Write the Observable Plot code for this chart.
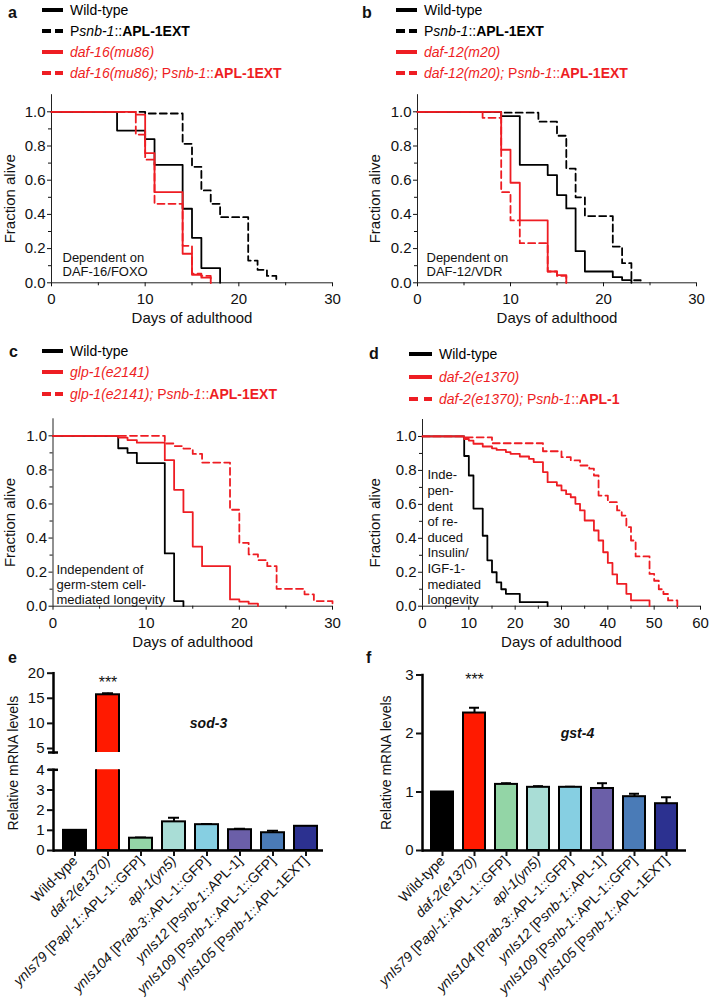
<!DOCTYPE html>
<html><head><meta charset="utf-8">
<script src="https://cdn.jsdelivr.net/npm/d3@7"></script>
<script src="https://cdn.jsdelivr.net/npm/@observablehq/plot@0.6"></script>
<style>
body{margin:0;background:#fff;}
#fig{position:relative;width:709px;height:1006px;font-family:"Liberation Sans",Arial,Helvetica,sans-serif;overflow:hidden;background:#fff;}
.letter{position:absolute;font-weight:bold;font-size:16px;line-height:16px;color:#111;}
.legtext{position:absolute;font-size:14px;line-height:16px;white-space:nowrap;}
.sw{position:absolute;height:4px;}
</style></head>
<body><div id="fig"></div>
<script>
const FONT = "'Liberation Sans', Arial, Helvetica, sans-serif";
const BLACK = "#000000";
const RED = "#ee1d23";

// ---------- Panel a : DAF-16 ----------
const aWildTypeDays  = [0, 7, 10, 11, 14, 15, 16, 18];
const aWildTypeAlive = [1, 0.89, 0.84, 0.69, 0.433, 0.263, 0.086, 0];
const aExtDays  = [0, 10, 14, 15, 16, 17, 18, 21, 22, 23, 24];
const aExtAlive = [1, 0.99, 0.813, 0.678, 0.54, 0.462, 0.384, 0.13, 0.076, 0.04, 0];
const aDaf16Days  = [0, 9, 10, 11, 14, 15, 16, 17];
const aDaf16Alive = [1, 0.984, 0.758, 0.53, 0.17, 0.047, 0.03, 0];
const aDaf16ExtDays  = [0, 9, 10, 11, 14, 15, 16, 17];
const aDaf16ExtAlive = [1, 0.867, 0.72, 0.462, 0.216, 0.053, 0.04, 0];

// ---------- Panel b : DAF-12 ----------
const bWildTypeDays  = [0, 9, 11, 14, 15, 16, 17, 18, 21, 22, 23];
const bWildTypeAlive = [1, 0.975, 0.69, 0.63, 0.513, 0.435, 0.185, 0.066, 0.033, 0.016, 0];
const bExtDays  = [0, 9, 13, 15, 16, 17, 18, 21, 22, 23, 24];
const bExtAlive = [1, 0.995, 0.942, 0.86, 0.668, 0.5, 0.39, 0.212, 0.115, 0.015, 0];
const bDaf12Days  = [0, 9, 10, 11, 14, 15, 16];
const bDaf12Alive = [1, 0.778, 0.585, 0.365, 0.066, 0.045, 0];
const bDaf12ExtDays  = [0, 7, 9, 10, 11, 14, 15, 16];
const bDaf12ExtAlive = [1, 0.965, 0.53, 0.365, 0.232, 0.066, 0.04, 0];

// ---------- Panel c : glp-1 ----------
const cWildTypeDays  = [0, 7, 8, 9, 12, 13, 14];
const cWildTypeAlive = [1, 0.927, 0.9, 0.84, 0.31, 0.03, 0];
const cGlp1Days  = [0, 7, 8, 9, 12, 13, 14, 15, 16, 19, 20, 21, 22];
const cGlp1Alive = [1, 0.99, 0.975, 0.96, 0.857, 0.683, 0.552, 0.35, 0.235, 0.04, 0.027, 0.015, 0];
const cGlp1ExtDays  = [0, 12, 13, 14, 15, 16, 19, 20, 21, 22, 23, 24, 27, 28, 30];
const cGlp1ExtAlive = [1, 0.955, 0.94, 0.925, 0.894, 0.843, 0.566, 0.372, 0.304, 0.27, 0.235, 0.102, 0.07, 0.03, 0];

// ---------- Panel d : daf-2 ----------
const dWildTypeDays  = [0, 9, 10, 11, 13, 14, 15, 16, 17, 18, 21, 27];
const dWildTypeAlive = [1, 0.885, 0.77, 0.575, 0.415, 0.27, 0.2, 0.14, 0.1, 0.073, 0.024, 0];
const dDaf2Days  = [0, 9, 10, 11, 13, 15, 16, 18, 19, 21, 23, 24, 26, 27, 29, 30, 31, 32, 33, 34, 35, 37, 38, 39, 40, 41, 42, 44, 45, 49];
const dDaf2Alive = [1, 0.985, 0.976, 0.957, 0.941, 0.93, 0.921, 0.908, 0.898, 0.882, 0.868, 0.849, 0.79, 0.731, 0.711, 0.682, 0.66, 0.642, 0.603, 0.564, 0.505, 0.446, 0.387, 0.318, 0.255, 0.187, 0.132, 0.073, 0.034, 0];
const dDaf2ExtDays  = [0, 9, 15, 26, 30, 32, 34, 36, 37, 38, 40, 42, 43, 44, 45, 46, 49, 50, 51, 52, 53, 55];
const dDaf2ExtAlive = [1, 0.995, 0.96, 0.913, 0.878, 0.859, 0.829, 0.81, 0.77, 0.652, 0.613, 0.564, 0.534, 0.466, 0.387, 0.293, 0.19, 0.15, 0.1, 0.072, 0.034, 0];

// ---------- Panels e, f : qPCR bars ----------
const categoryMarkup = [
  "Wild-type",
  "_daf-2(e1370)_",
  "_ynIs79_ [P_apl-1_::APL-1::GFP]",
  "_apl-1(yn5)_",
  "_ynIs104_ [P_rab-3_::APL-1::GFP]",
  "_ynIs12_ [P_snb-1_::APL-1]",
  "_ynIs109_ [P_snb-1_::APL-1::GFP]",
  "_ynIs105_ [P_snb-1_::APL-1EXT]"
];
const categories = categoryMarkup.map(s => s.replace(/_/g, ""));
const barColors = ["#000000", "#ff1a00", "#93d5a6", "#a9ddd6", "#86cfe2", "#6b5fa8", "#4a7bb7", "#2c3190"];
const sod3Values = [1.0, 15.7, 0.61, 1.42, 1.28, 1.03, 0.88, 1.2];
const sod3Errors = [0, 0.3, 0.04, 0.2, 0.03, 0.05, 0.1, 0.02];
const gst4Values = [1.0, 2.35, 1.13, 1.08, 1.08, 1.06, 0.92, 0.80];
const gst4Errors = [0, 0.09, 0.02, 0.02, 0.01, 0.09, 0.05, 0.11];
const significance = ["", "***", "", "", "", "", "", ""];

const fig = document.getElementById("fig");

function place(el, left, top) {
  el.style.position = "absolute";
  el.style.left = left + "px";
  el.style.top = top + "px";
  fig.append(el);
  return el;
}
function letter(ch, left, top) {
  const d = document.createElement("div");
  d.className = "letter"; d.textContent = ch;
  place(d, left, top);
}
function swatch(x, y, w, color) {
  const s = document.createElement("div");
  s.className = "sw"; s.style.width = w + "px"; s.style.background = color;
  place(s, x, y - 2);
}
function legend(x0, swW, yCenters, entries) {
  entries.forEach((e, i) => {
    const y = yCenters[i];
    if (e.dashed) { swatch(x0, y, 9, e.color); swatch(x0 + swW - 8, y, 8, e.color); }
    else swatch(x0, y, swW, e.color);
    const t = document.createElement("div");
    t.className = "legtext"; t.style.color = e.color; t.innerHTML = e.html;
    place(t, x0 + swW + 7, y - 8);
  });
}
const rows = (days, alive) => days.map((d, i) => ({day: d, alive: alive[i]}));

function survival(cfg) {
  const marks = [
    Plot.ruleY([0], {x1: cfg.xDomain[0], x2: cfg.xDomain[1], stroke: "#222", strokeWidth: 1}),
    Plot.ruleX([0], {y1: 0, y2: 1.1, stroke: "#222", strokeWidth: 1}),
    Plot.axisX({ticks: cfg.xMajor, tickSize: 4, tickPadding: 7, tickFormat: d => String(d), label: null}),
    Plot.axisX({ticks: cfg.xMinor, tickSize: 3, tickFormat: () => "", label: null}),
    Plot.axisY({ticks: [0, 0.2, 0.4, 0.6, 0.8, 1], tickSize: 4, tickPadding: 2, tickFormat: d3.format(".1f"), label: null}),
    Plot.axisY({ticks: [0.1, 0.3, 0.5, 0.7, 0.9], tickSize: 3, tickFormat: () => "", label: null}),
    ...cfg.series.map(s => Plot.line(s.rows, Object.assign(
      {x: "day", y: "alive", curve: "step-after", stroke: s.color, strokeWidth: 1.8},
      s.dashed ? {strokeDasharray: "7,4"} : {}))),
    Plot.text([cfg.note], {text: d => d, frameAnchor: "bottom-left", dx: cfg.noteDx, dy: cfg.noteDy,
      lineAnchor: "bottom", textAnchor: "start", fontSize: 13, lineHeight: cfg.noteLineHeight, fill: "#111"}),
    Plot.text(["Days of adulthood"], {text: d => d, frameAnchor: "bottom", dy: 35.5, fontSize: 15, lineAnchor: "middle", fill: "#111"}),
    Plot.text(["Fraction alive"], {text: d => d, frameAnchor: "left", dx: cfg.yTitleDx, dy: 10, rotate: -90,
      fontSize: 15, lineAnchor: "middle", textAnchor: "middle", fill: "#111"})
  ];
  const svg = Plot.plot({
    width: cfg.width, height: cfg.height,
    marginLeft: cfg.marginLeft, marginRight: cfg.marginRight, marginTop: cfg.marginTop, marginBottom: cfg.marginBottom,
    x: {domain: cfg.xDomain, label: null},
    y: {domain: [0, 1.1], label: null},
    style: {fontFamily: FONT, fontSize: "15px", color: "#111", background: "transparent", overflow: "visible"},
    marks
  });
  place(svg, cfg.left, cfg.top);
}

// Panel a
letter("a", 8, 5);
legend(42, 21, [10, 31, 52, 73], [
  {color: BLACK, html: "Wild-type"},
  {color: BLACK, dashed: true, html: "P<i>snb-1</i>::<b>APL-1EXT</b>"},
  {color: RED, html: "<i>daf-16(mu86)</i>"},
  {color: RED, dashed: true, html: "<i>daf-16(mu86);</i> P<i>snb-1</i>::<b>APL-1EXT</b>"}
]);
survival({left: 0, top: 90, width: 354, height: 250, marginLeft: 51, marginRight: 22, marginTop: 4.2, marginBottom: 57.7,
  xDomain: [0, 30], xMajor: [0, 10, 20, 30], xMinor: [5, 15, 25],
  series: [
    {rows: rows(aWildTypeDays, aWildTypeAlive), color: BLACK},
    {rows: rows(aExtDays, aExtAlive), color: BLACK, dashed: true},
    {rows: rows(aDaf16Days, aDaf16Alive), color: RED},
    {rows: rows(aDaf16ExtDays, aDaf16ExtAlive), color: RED, dashed: true}
  ],
  note: "Dependent on\nDAF-16/FOXO", noteDx: 11, noteDy: -7, noteLineHeight: 1.08, yTitleDx: -41});

// Panel b
letter("b", 362, 5);
legend(396, 21, [10, 31, 52, 73], [
  {color: BLACK, html: "Wild-type"},
  {color: BLACK, dashed: true, html: "P<i>snb-1</i>::<b>APL-1EXT</b>"},
  {color: RED, html: "<i>daf-12(m20)</i>"},
  {color: RED, dashed: true, html: "<i>daf-12(m20);</i> P<i>snb-1</i>::<b>APL-1EXT</b>"}
]);
survival({left: 354, top: 90, width: 355, height: 250, marginLeft: 63, marginRight: 13, marginTop: 4.2, marginBottom: 57.7,
  xDomain: [0, 30], xMajor: [0, 10, 20, 30], xMinor: [5, 15, 25],
  series: [
    {rows: rows(bWildTypeDays, bWildTypeAlive), color: BLACK},
    {rows: rows(bExtDays, bExtAlive), color: BLACK, dashed: true},
    {rows: rows(bDaf12Days, bDaf12Alive), color: RED},
    {rows: rows(bDaf12ExtDays, bDaf12ExtAlive), color: RED, dashed: true}
  ],
  note: "Dependent on\nDAF-12/VDR", noteDx: 9, noteDy: -7, noteLineHeight: 1.08, yTitleDx: -42});

// Panel c
letter("c", 9, 344);
legend(42, 21, [351, 372, 394], [
  {color: BLACK, html: "Wild-type"},
  {color: RED, html: "<i>glp-1(e2141)</i>"},
  {color: RED, dashed: true, html: "<i>glp-1(e2141);</i> P<i>snb-1</i>::<b>APL-1EXT</b>"}
]);
survival({left: 0, top: 410, width: 354, height: 250, marginLeft: 52.5, marginRight: 22, marginTop: 8.3, marginBottom: 54.3,
  xDomain: [0, 30], xMajor: [0, 10, 20, 30], xMinor: [5, 15, 25],
  series: [
    {rows: rows(cWildTypeDays, cWildTypeAlive), color: BLACK},
    {rows: rows(cGlp1Days, cGlp1Alive), color: RED},
    {rows: rows(cGlp1ExtDays, cGlp1ExtAlive), color: RED, dashed: true}
  ],
  note: "Independent of\ngerm-stem cell-\nmediated longevity", noteDx: 3.5, noteDy: -2, noteLineHeight: 1.15, yTitleDx: -43});

// Panel d
letter("d", 369, 346);
legend(409, 23, [354, 377, 399], [
  {color: BLACK, html: "Wild-type"},
  {color: RED, html: "<i>daf-2(e1370)</i>"},
  {color: RED, dashed: true, html: "<i>daf-2(e1370);</i> P<i>snb-1</i>::<b>APL-1</b>"}
]);
survival({left: 354, top: 410, width: 355, height: 250, marginLeft: 68, marginRight: 9, marginTop: 9, marginBottom: 54.3,
  xDomain: [0, 60], xMajor: [0, 10, 20, 30, 40, 50, 60], xMinor: [5, 15, 25, 35, 45, 55],
  series: [
    {rows: rows(dWildTypeDays, dWildTypeAlive), color: BLACK},
    {rows: rows(dDaf2Days, dDaf2Alive), color: RED},
    {rows: rows(dDaf2ExtDays, dDaf2ExtAlive), color: RED, dashed: true}
  ],
  note: "Inde-\npen-\ndent\nof re-\nduced\nInsulin/\nIGF-1-\nmediated\nlongevity", noteDx: 5, noteDy: -2, noteLineHeight: 1.2, yTitleDx: -47});

// ---------- bars ----------
const markupByLabel = new Map(categories.map((c, i) => [c, categoryMarkup[i]]));
function styleTickLabels(svg) {
  svg.querySelectorAll("text").forEach(t => {
    const m = markupByLabel.get(t.textContent);
    if (!m) return;
    t.textContent = "";
    m.split("_").forEach((p, i) => {
      if (!p) return;
      const ts = document.createElementNS("http://www.w3.org/2000/svg", "tspan");
      ts.textContent = p;
      if (i % 2) ts.setAttribute("font-style", "italic");
      t.append(ts);
    });
  });
}
const barRows = (vals, errs) => categories.map((c, i) => ({label: c, value: vals[i], error: errs[i], color: barColors[i], sig: significance[i]}));
const sod3 = barRows(sod3Values, sod3Errors);
const gst4 = barRows(gst4Values, gst4Errors);

function barMarks(data) {
  const withErr = data.filter(d => d.error > 0);
  return [
    Plot.ruleX(withErr, {x: "label", y1: "value", y2: d => d.value + d.error, stroke: "#000", strokeWidth: 2, clip: true}),
    Plot.tickY(withErr, {x: "label", y: d => d.value + d.error, stroke: "#000", strokeWidth: 2, insetLeft: 6, insetRight: 6, clip: true}),
    Plot.barY(data, {x: "label", y1: 0, y2: "value", fill: "color", stroke: "#000", strokeWidth: 2, clip: true})
  ];
}
const barStyle = {fontFamily: FONT, fontSize: "15px", color: "#111", background: "transparent", overflow: "visible"};
const intFormat = d3.format("d");

// Panel e (broken axis: two segments)
letter("e", 8, 650);
{
  const W = 354, mL = 53, mR = 31, fw = W - mL - mR;
  const xOpt = {domain: categories, paddingInner: 0.3, paddingOuter: 0.2, align: 0.6, label: null};
  const upper = Plot.plot({
    width: W, height: 97, marginLeft: mL, marginRight: mR, marginTop: 17.7, marginBottom: 0,
    x: Object.assign({axis: null}, xOpt), y: {domain: [4.2, 20], label: null}, color: {type: "identity"}, style: barStyle,
    marks: [
      ...barMarks(sod3),
      Plot.frame({anchor: "left", strokeWidth: 2.5, stroke: "#000"}),
      Plot.ruleY([4.2], {insetLeft: -5, insetRight: fw - 5, strokeWidth: 2.5, stroke: "#000"}),
      Plot.axisY({ticks: [5, 10, 15, 20], tickSize: 6, tickPadding: 3, strokeWidth: 2, tickFormat: intFormat, label: null}),
      Plot.text(sod3.filter(d => d.sig), {x: "label", y: d => d.value + d.error, text: "sig", lineAnchor: "middle", dy: -10, fontSize: 16}),
      Plot.text(["sod-3"], {text: d => d, frameAnchor: "top-left", dx: 155, dy: 50.3, lineAnchor: "middle", textAnchor: "middle",
        fontSize: 14, fontWeight: "bold", fontStyle: "italic"})
    ]
  });
  place(upper, 0, 655);
  const lower = Plot.plot({
    width: W, height: 256, marginLeft: mL, marginRight: mR, marginTop: 19.3, marginBottom: 156,
    x: xOpt, y: {domain: [0, 4], label: null}, color: {type: "identity"}, style: Object.assign({}, barStyle, {fontSize: "14px"}),
    marks: [
      ...barMarks(sod3),
      Plot.frame({anchor: "left", strokeWidth: 2.5, stroke: "#000"}),
      Plot.ruleY([0], {strokeWidth: 2.5, stroke: "#000"}),
      Plot.ruleY([4], {insetLeft: -5, insetRight: fw - 5, strokeWidth: 2.5, stroke: "#000"}),
      Plot.axisY({ticks: [0, 1, 2, 3, 4], tickSize: 6, tickPadding: 3, strokeWidth: 2, tickFormat: intFormat, fontSize: 15, label: null}),
      Plot.axisX({tickSize: 6, tickPadding: 2, tickRotate: -45, strokeWidth: 2, fontSize: 14, label: null}),
      Plot.text(["Relative mRNA levels"], {text: d => d, frameAnchor: "left", dx: -40, dy: -47, rotate: -90,
        fontSize: 14, lineAnchor: "middle", textAnchor: "middle"})
    ]
  });
  styleTickLabels(lower);
  place(lower, 0, 750);
}

// Panel f
letter("f", 366, 650);
{
  const svg = Plot.plot({
    width: 355, height: 351, marginLeft: 68, marginRight: 23, marginTop: 19.5, marginBottom: 156,
    x: {domain: categories, paddingInner: 0.3, paddingOuter: 0.16, align: 0.5, label: null},
    y: {domain: [0, 3], label: null}, color: {type: "identity"}, style: barStyle,
    marks: [
      ...barMarks(gst4),
      Plot.frame({anchor: "left", strokeWidth: 2.5, stroke: "#000"}),
      Plot.ruleY([0], {strokeWidth: 2.5, stroke: "#000"}),
      Plot.axisY({ticks: [0, 1, 2, 3], tickSize: 6, tickPadding: 3, strokeWidth: 2, tickFormat: intFormat, label: null}),
      Plot.axisX({tickSize: 6, tickPadding: 2, tickRotate: -45, strokeWidth: 2, fontSize: 14, label: null}),
      Plot.text(gst4.filter(d => d.sig), {x: "label", y: d => d.value + d.error, text: "sig", lineAnchor: "middle", dy: -28, fontSize: 16}),
      Plot.text(["gst-4"], {text: d => d, frameAnchor: "top-left", dx: 155, dy: 58.5, lineAnchor: "middle", textAnchor: "middle",
        fontSize: 14, fontWeight: "bold", fontStyle: "italic"}),
      Plot.text(["Relative mRNA levels"], {text: d => d, frameAnchor: "left", dx: -36, dy: 0, rotate: -90,
        fontSize: 14, lineAnchor: "middle", textAnchor: "middle"})
    ]
  });
  styleTickLabels(svg);
  place(svg, 354, 655);
}
</script></body></html>
